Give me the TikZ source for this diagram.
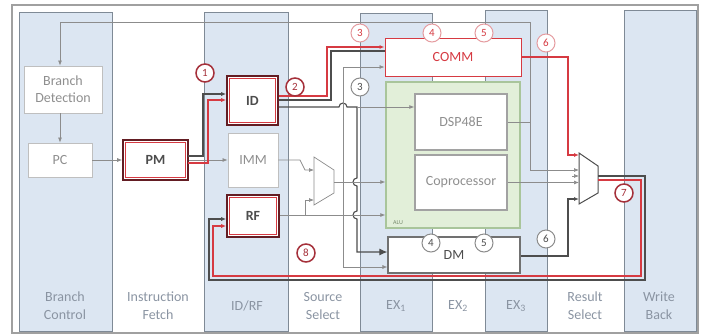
\documentclass[tikz,border=0pt]{standalone}
\usepackage{fontspec}
\setmainfont{Carlito}
\usetikzlibrary{arrows.meta}
\definecolor{colblue}{HTML}{DCE6F2}
\definecolor{colline}{HTML}{7F8A96}
\definecolor{framec}{HTML}{A0A0A0}
\definecolor{lbl}{HTML}{8A94A2}
\definecolor{boxtxt}{HTML}{8F8F8F}
\definecolor{hred}{HTML}{D63A42}
\definecolor{dred}{HTML}{A5303A}
\definecolor{pinkc}{HTML}{E59CA0}
\definecolor{alug}{HTML}{E2EFD9}
\definecolor{alub}{HTML}{A9C59B}
\definecolor{dk}{HTML}{4D4D4D}
\definecolor{ln}{HTML}{8C8C8C}
\definecolor{boxbrd}{HTML}{BFBFBF}
\begin{document}
\begin{tikzpicture}[x=1pt,y=-1pt,
  col/.style={fill=colblue, draw=colline, line width=1pt, inner sep=0pt},
  collabel/.style={text=lbl, align=center, font=\fontsize{14}{18}\selectfont, inner sep=0pt},
  plainbox/.style={draw=boxbrd, fill=white, line width=0.9pt, text=boxtxt, align=center, inner sep=0pt, font=\fontsize{14}{17}\selectfont},
  unitbox/.style={draw=boxbrd!85!black, fill=white, line width=1.4pt, text=boxtxt, inner sep=0pt, font=\fontsize{14}{17}\selectfont},
  hlbox/.style={draw=dred!60!black, fill=white, line width=1.6pt, inner sep=0pt, text=dk, font=\bfseries\fontsize{14}{17}\selectfont},
  cbase/.style={circle, fill=white, inner sep=0pt, minimum size=18pt, font=\fontsize{11}{11}\selectfont},
  cred/.style={cbase, draw=dred, line width=1.5pt, text=dred},
  cpink/.style={cbase, draw=pinkc, line width=1pt, text=hred},
  cgray/.style={cbase, draw=ln, line width=1pt, text=dk},
  gline/.style={draw=ln, line width=0.7pt},
  dkpath/.style={draw=dk, line width=1.1pt},
  redpath/.style={draw=hred, line width=1.8pt},
  arr/.style={-{Latex[length=5pt,width=4pt]}},
  bigarr/.style={-{Latex[length=8pt,width=7pt]}}
]
\useasboundingbox (0,0) rectangle (701,335);
\draw[framec, line width=1.6pt] (12,5) rectangle (698,333);

% stage columns
\node[col, minimum width=93pt, minimum height=319pt] (colbc) at (65.5,171.5) {};
\node[col, minimum width=84pt, minimum height=319pt] (colid) at (246,171.5) {};
\node[col, minimum width=72pt, minimum height=318pt] (colexa) at (396,172) {};
\node[col, minimum width=62pt, minimum height=321pt] (colexc) at (516,170.5) {};
\node[col, minimum width=72pt, minimum height=321pt] (colwb) at (660,170.5) {};

% stage labels
\node[collabel] (lbc) at (65,306) {Branch\\Control};
\node[collabel] (lif) at (158,306) {Instruction\\Fetch};
\node[collabel] (lid) at (247,306) {ID/RF};
\node[collabel] (lss) at (323,306) {Source\\Select};
\node[collabel] (lexa) at (396,306) {EX\textsubscript{1}};
\node[collabel] (lexb) at (458,306) {EX\textsubscript{2}};
\node[collabel] (lexc) at (516,306) {EX\textsubscript{3}};
\node[collabel] (lrs) at (585,306) {Result\\Select};
\node[collabel] (lwb) at (659,306) {Write\\Back};

% blocks
\node[plainbox, minimum width=78pt, minimum height=47pt] (bd) at (63,89.5) {Branch\\Detection};
\node[plainbox, minimum width=64pt, minimum height=34pt] (pc) at (60,160) {PC};
\node[hlbox, minimum width=65pt, minimum height=40pt] (pm) at (155.5,160) {PM};
\node[hlbox, minimum width=51pt, minimum height=49pt] (id) at (252.5,100.5) {ID};
\node[plainbox, minimum width=50pt, minimum height=54pt] (imm) at (253,160) {IMM};
\node[hlbox, minimum width=52pt, minimum height=42pt] (rf) at (253,216) {RF};
\foreach \n in {pm,id,rf}
  \draw[hred, line width=1pt] ([shift={(3.5pt,3.5pt)}]\n.south west) rectangle ([shift={(-3.5pt,-3.5pt)}]\n.north east);
\node[draw=hred, line width=1pt, fill=white, text=hred, inner sep=0pt, minimum width=136pt, minimum height=38pt, font=\fontsize{14}{17}\selectfont] (comm) at (453,57) {COMM};
\node[draw=alub, fill=alug, line width=1.4pt, inner sep=0pt, minimum width=134pt, minimum height=146pt] (alu) at (453,155) {};
\node[text=alub!70!black, font=\fontsize{6}{6}\selectfont, inner sep=0pt] (alulbl) at (398,223) {ALU};
\node[unitbox, minimum width=92pt, minimum height=56pt] (dsp) at (461,122) {DSP48E};
\node[unitbox, minimum width=92pt, minimum height=55pt] (cop) at (461,182.5) {Coprocessor};
\node[draw=dk!80, fill=white, line width=1.2pt, text=dk, inner sep=0pt, minimum width=132pt, minimum height=36pt, font=\fontsize{14}{17}\selectfont] (dm) at (454,255) {DM};

% multiplexers
\draw[gline, fill=white] (314,157) -- (334,170) -- (334,193) -- (314,205) -- cycle;
\coordinate (mxaout) at (334,182);
\draw[draw=dk, line width=1pt, fill=white] (579,153) -- (598,166) -- (598,193) -- (579,204) -- cycle;

% branch control
\draw[gline, arr] (dsp.east) -| (530,170) -- (579,170);
\draw[gline, arr] (530,122) -- (530,22) -| (bd.north -| pc.north);
\draw[gline, arr] (bd.south -| pc.north) -- (pc.north);
\draw[gline, arr] (pc.east) -- (pm.west);
\draw[gline, arr] (pm.east) -- (imm.west);

% fetch to decode (highlighted)
\draw[dkpath, arr] (188,156) -- (203,156) -- (203,94) -- (id.west |- 0,94);
\draw[redpath, arr] (188,163) -- (208,163) -- (208,100) -- (id.west |- 0,100);

% decode to COMM (highlighted)
\draw[dkpath] (id.east |- 0,100) -- (331,100) -- (331,51) -- (comm.west |- 0,51);
\draw[redpath, arr] (id.east |- 0,96) -- (327,96) -- (327,47) -- (comm.west |- 0,47);

% decode to DM address and DSP
\draw[dkpath, bigarr] (id.east |- 0,107) -- (339,107) arc[start angle=180, end angle=0, radius=4pt] -- (357,107)
  -- (357,178) arc[start angle=90, end angle=270, radius=4pt]
  -- (357,211) arc[start angle=90, end angle=270, radius=4pt]
  -- (357,252) -- (dm.west |- 0,252);
\draw[gline, arr] (357,107) -- (dsp.west |- 0,107);

% source select
\draw[gline, arr] (imm.east) -- (300,160) -- (305,170) -- (314,170);
\draw[gline, arr] (rf.east |- 0,215) -- (alu.west |- 0,215);
\draw[gline, arr] (305,215) -- (305,200) -- (314,200);
\draw[gline, arr] (mxaout) -- (alu.west |- 0,182);
\draw[gline, arr] (343,182) |- (comm.west |- 0,67);
\draw[gline, arr] (343,182) |- (dm.west |- 0,267);

% result select
\draw[draw=hred, line width=1.1pt, arr] (comm.east) -| (568,155) -- (579,155);
\draw[gline, arr] (cop.east) -- (579,182.5);
\draw[gline, arr] (572,176) -- (579,176);
\draw[dkpath, arr] (dm.east |- 0,256) -| (568,199) -- (579,199);

% write back (highlighted)
\draw[dkpath, arr] (598,176) -- (645,176) -- (645,280) -- (209,280) -- (209,219) -- (rf.west |- 0,219);
\draw[redpath, arr] (598,180) -- (641,180) -- (641,276) -- (213,276) -- (213,226) -- (rf.west |- 0,226);

% stage markers
\node[cred] (na) at (205,73) {1};
\node[cred] (nb) at (295,87) {2};
\node[cpink] (ncr) at (360,33) {3};
\node[cgray] (ncg) at (360,87) {3};
\node[cpink] (ndr) at (432,33) {4};
\node[cpink] (ner) at (484,33) {5};
\node[cpink] (nfr) at (546,43) {6};
\node[cgray] (ndg) at (431,243) {4};
\node[cgray] (neg) at (484,243) {5};
\node[cgray] (nfg) at (546,239) {6};
\node[cred] (ng) at (624,193) {7};
\node[cred] (nh) at (306,253) {8};
\end{tikzpicture}
\end{document}
